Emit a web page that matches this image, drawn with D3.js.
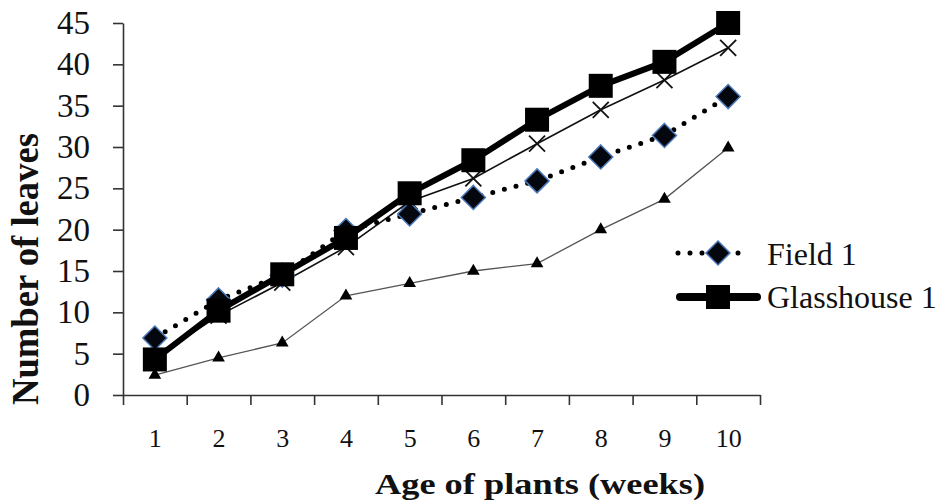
<!DOCTYPE html>
<html>
<head>
<meta charset="utf-8">
<script src="https://cdn.jsdelivr.net/npm/d3@7"></script>
<style>
  html, body { margin: 0; padding: 0; background: #fff; }
  svg { display: block; }
  text { font-family: "Liberation Serif", "Times New Roman", serif; fill: #111; }
</style>
</head>
<body>
<svg id="chart" width="944" height="502"></svg>
<script>
// ---- data ----
const weeks = [1, 2, 3, 4, 5, 6, 7, 8, 9, 10];
const yTicks = [0, 5, 10, 15, 20, 25, 30, 35, 40, 45];
const glasshouse1 = [4.3, 10.2, 14.6, 19.0, 24.4, 28.4, 33.3, 37.4, 40.3, 45.0];
const field1 = [6.9, 11.5, 14.5, 19.9, 21.9, 23.9, 25.9, 28.8, 31.4, 36.1];
const seriesCross = [4.5, 9.6, 13.6, 17.9, 23.4, 26.2, 30.4, 34.5, 38.1, 42.0];
const seriesTriangle = [2.4, 4.5, 6.3, 12.0, 13.5, 15.0, 15.9, 20.0, 23.7, 29.9];
const legendLabels = ["Field 1", "Glasshouse 1"];
const xTitle = "Age of plants (weeks)";
const yTitle = "Number of leaves";

(function () {
// ---- layout ----
const svg = d3.select("#chart");
const mLeft = 123, mRight = 760, mTop = 23, mBottom = 395;

const x = d3.scaleLinear().domain([0.5, 10.5]).range([mLeft, mRight]);
const y = d3.scaleLinear().domain([0, 45]).range([mBottom, mTop]);

const axisColor = "#333";
const serif = '"Liberation Serif", "Times New Roman", serif';

// x axis (ticks at category boundaries)
const edges = d3.range(0.5, 11, 1);
const gx = svg.append("g").attr("transform", `translate(0,${mBottom})`)
  .call(d3.axisBottom(x).tickValues(edges).tickFormat("").tickSize(10).tickSizeOuter(0));
gx.selectAll("path, line").attr("stroke", axisColor).attr("stroke-width", 1.6);

// x labels
const gxl = svg.append("g").attr("transform", `translate(0,${mBottom})`)
  .call(d3.axisBottom(x).tickValues(weeks).tickFormat(d3.format("d")).tickSize(0).tickPadding(34));
gxl.select(".domain").remove();
gxl.selectAll("text").style("font-size", "26px").style("font-family", serif).attr("fill", "#111");

// y axis
const gy = svg.append("g").attr("transform", `translate(${mLeft},0)`)
  .call(d3.axisLeft(y).tickValues(yTicks).tickSize(10).tickSizeOuter(0).tickPadding(23));
gy.selectAll("path, line").attr("stroke", axisColor).attr("stroke-width", 1.6);
gy.selectAll("text").style("font-size", "33px").style("font-family", serif).attr("fill", "#111");

// titles
svg.append("text").attr("x", 540).attr("y", 494).attr("text-anchor", "middle")
  .style("font-size", "30px").style("font-weight", "bold")
  .attr("textLength", 330).attr("lengthAdjust", "spacingAndGlyphs").text(xTitle);
svg.append("text").attr("transform", "translate(38,269) rotate(-90)").attr("text-anchor", "middle")
  .style("font-size", "37px").style("font-weight", "bold")
  .attr("textLength", 272).attr("lengthAdjust", "spacingAndGlyphs").text(yTitle);

const line = d3.line().x((d, i) => x(weeks[i])).y(d => y(d));

// triangle series
svg.append("path").datum(seriesTriangle).attr("d", line)
  .attr("fill", "none").attr("stroke", "#555").attr("stroke-width", 1.3);
svg.append("g").selectAll("path").data(seriesTriangle).join("path")
  .attr("transform", (d, i) => `translate(${x(weeks[i])},${y(d)})`)
  .attr("d", d3.symbol(d3.symbolTriangle, 70)).attr("fill", "#000");

// cross series
svg.append("path").datum(seriesCross).attr("d", line)
  .attr("fill", "none").attr("stroke", "#111").attr("stroke-width", 1.6);
svg.append("g").selectAll("path").data(seriesCross).join("path")
  .attr("transform", (d, i) => `translate(${x(weeks[i])},${y(d)})`)
  .attr("d", "M-8,-8L8,8M-8,8L8,-8").attr("stroke", "#111").attr("stroke-width", 1.8).attr("fill", "none");

// field 1 (dotted with diamonds)
const diamond = "M0,-12L12,0L0,12L-12,0Z";
svg.append("path").datum(field1).attr("d", line)
  .attr("fill", "none").attr("stroke", "#000").attr("stroke-width", 5)
  .attr("stroke-linecap", "round").attr("stroke-dasharray", "0 12");
svg.append("g").selectAll("path").data(field1).join("path")
  .attr("transform", (d, i) => `translate(${x(weeks[i])},${y(d)})`)
  .attr("d", diamond).attr("fill", "#05070f").attr("stroke", "#4a78b8").attr("stroke-width", 1.5);

// glasshouse 1 (thick with squares)
svg.append("path").datum(glasshouse1).attr("d", line)
  .attr("fill", "none").attr("stroke", "#000").attr("stroke-width", 6).attr("stroke-linejoin", "round");
svg.append("g").selectAll("rect").data(glasshouse1).join("rect")
  .attr("x", (d, i) => x(weeks[i]) - 12).attr("y", d => y(d) - 12)
  .attr("width", 24).attr("height", 24).attr("fill", "#000");

// legend
const lg = svg.append("g");
lg.append("line").attr("x1", 678).attr("x2", 750).attr("y1", 253).attr("y2", 253)
  .attr("stroke", "#000").attr("stroke-width", 5).attr("stroke-linecap", "round").attr("stroke-dasharray", "0 12");
lg.append("path").attr("transform", "translate(718,253)").attr("d", diamond)
  .attr("fill", "#05070f").attr("stroke", "#4a78b8").attr("stroke-width", 1.5);
lg.append("line").attr("x1", 680).attr("x2", 757).attr("y1", 297).attr("y2", 297)
  .attr("stroke", "#000").attr("stroke-width", 8).attr("stroke-linecap", "round");
lg.append("rect").attr("x", 706).attr("y", 285).attr("width", 24).attr("height", 24).attr("fill", "#000");
lg.selectAll("text.lbl").data(legendLabels).join("text").attr("class", "lbl")
  .attr("x", 767).attr("y", (d, i) => 265 + i * 43)
  .style("font-size", "32px").text(d => d);
})();
</script>
</body>
</html>
